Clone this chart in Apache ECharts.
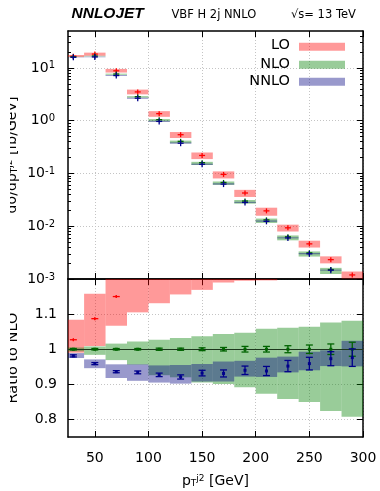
<!DOCTYPE html>
<html><head><meta charset="utf-8">
<script src="https://cdn.jsdelivr.net/npm/echarts@6/dist/echarts.min.js"></script>
<style>html,body{margin:0;padding:0;background:#fff}#c{width:380px;height:491px}</style>
</head><body><div id="c"></div>
<script>
// ---- data ----
const binEdges = [20,40,60,80,100,120,140,160,180,200,220,240,260,280,300];
const nloXsec = [16.2,16.8,7.65,2.85,1.045,0.406,0.16,0.0675,0.030,0.0132,0.0063,0.00313,0.00151,0.00077];
const loRatio     = [1.027,1.087,1.150,1.23,1.30,1.335,1.37,1.42,1.42,1.48,1.48,1.48,1.54,1.55];
const loRatioLow  = [0.990,1.009,1.067,1.105,1.131,1.156,1.169,1.190,1.195,1.196,1.26,1.26,1.31,1.32];
const loRatioHigh = [1.084,1.158,1.25,1.36,1.45,1.50,1.56,1.62,1.63,1.70,1.70,1.70,1.78,1.80];
const loErr       = [0.003,0.003,0.003,0.004,0.004,0.005,0.005,0.006,0.006,0.007,0.008,0.009,0.010,0.011];
const nloRatioLow  = [0.994,0.984,0.969,0.956,0.926,0.920,0.905,0.901,0.892,0.873,0.858,0.850,0.824,0.808];
const nloRatioHigh = [1.005,1.008,1.016,1.022,1.027,1.032,1.037,1.043,1.047,1.058,1.061,1.064,1.076,1.081];
const nloErr       = [0.002,0.002,0.002,0.002,0.003,0.003,0.004,0.005,0.008,0.008,0.010,0.012,0.015,0.020];
const nnloRatio     = [0.981,0.959,0.936,0.934,0.927,0.921,0.932,0.931,0.940,0.938,0.952,0.959,0.973,0.976];
const nnloRatioLow  = [0.975,0.946,0.918,0.910,0.905,0.902,0.908,0.908,0.922,0.921,0.934,0.940,0.952,0.951];
const nnloRatioHigh = [0.989,0.971,0.957,0.957,0.954,0.955,0.958,0.965,0.967,0.976,0.979,0.993,0.997,1.024];
const nnloErr       = [0.003,0.003,0.003,0.004,0.005,0.006,0.008,0.010,0.012,0.013,0.016,0.018,0.020,0.025];
const xTicks = [50,100,150,200,250,300];
const yTicksTop = [0.001,0.01,0.1,1,10];
const yTicksRatio = [0.8,0.9,1,1.1];
const legendNames = ['LO','NLO','NNLO'];

// ---- build ----
const FONT = 'DejaVu Sans';
const cLO='rgba(255,0,0,0.4)', cNLO='rgba(0,128,0,0.4)', cNNLO='rgba(0,0,128,0.4)';
const pLO='#ff0000', pNLO='#006400', pNNLO='#00008b';
const minorTop = [];
for (let e=-3;e<=1;e++) for (let m=2;m<=9;m++){ const v=m*Math.pow(10,e); if(v<50) minorTop.push(v); }

const nb = nloXsec.length;
const bandsTop = {lo:[],nlo:[],nnlo:[]}, bandsR = {lo:[],nlo:[],nnlo:[]}, ptsTop={lo:[],nlo:[],nnlo:[]}, ptsR={lo:[],nlo:[],nnlo:[]};
for (let i=0;i<nb;i++){
  const x0=binEdges[i], x1=binEdges[i+1], xc=(x0+x1)/2, n=nloXsec[i];
  bandsTop.lo.push([x0,x1,loRatioLow[i]*n,loRatioHigh[i]*n]);
  bandsTop.nlo.push([x0,x1,nloRatioLow[i]*n,nloRatioHigh[i]*n]);
  bandsTop.nnlo.push([x0,x1,nnloRatioLow[i]*n,nnloRatioHigh[i]*n]);
  bandsR.lo.push([x0,x1,loRatioLow[i],loRatioHigh[i]]);
  bandsR.nlo.push([x0,x1,nloRatioLow[i],nloRatioHigh[i]]);
  bandsR.nnlo.push([x0,x1,nnloRatioLow[i],nnloRatioHigh[i]]);
  ptsTop.lo.push([xc,loRatio[i]*n,0]);
  ptsTop.nlo.push([xc,n,0]);
  ptsTop.nnlo.push([xc,nnloRatio[i]*n,0]);
  ptsR.lo.push([xc,loRatio[i],loErr[i]]);
  ptsR.nlo.push([xc,1,nloErr[i]]);
  ptsR.nnlo.push([xc,nnloRatio[i],nnloErr[i]]);
}

function bandSeries(xi, yi, data, fill, z){
  return {type:'custom', xAxisIndex:xi, yAxisIndex:yi, z, data, silent:true, animation:false,
    renderItem(params, api){
      const a = api.coord([api.value(0), api.value(3)]);
      const b = api.coord([api.value(1), api.value(2)]);
      const cs = params.coordSys;
      const shape = echarts.graphic.clipRectByRect({x:a[0],y:a[1],width:b[0]-a[0],height:b[1]-a[1]},{x:cs.x,y:cs.y,width:cs.width,height:cs.height});
      if(!shape) return null;
      return {type:'rect', shape, style:{fill}};
    }};
}
function pointSeries(xi, yi, data, color, opt, z){
  return {type:'custom', xAxisIndex:xi, yAxisIndex:yi, z, data, silent:true, animation:false,
    renderItem(params, api){
      const cs = params.coordSys;
      const x=api.value(0), y=api.value(1), e=api.value(2);
      const c = api.coord([x,y]);
      if (c[1] < cs.y-1 || c[1] > cs.y+cs.height+1) return null;
      const st = {stroke:color, lineWidth:opt.lw||1.2};
      const ch = [];
      if (e>0){
        const t=api.coord([x,y+e])[1], b=api.coord([x,y-e])[1];
        ch.push({type:'line', shape:{x1:c[0],y1:Math.max(t,cs.y),x2:c[0],y2:Math.min(b,cs.y+cs.height)}, style:st});
        if(opt.cap){
          if(t>=cs.y) ch.push({type:'line', shape:{x1:c[0]-opt.cap,y1:t,x2:c[0]+opt.cap,y2:t}, style:st});
          if(b<=cs.y+cs.height) ch.push({type:'line', shape:{x1:c[0]-opt.cap,y1:b,x2:c[0]+opt.cap,y2:b}, style:st});
        }
      }
      if(opt.h) ch.push({type:'line', shape:{x1:c[0]-opt.h,y1:c[1],x2:c[0]+opt.h,y2:c[1]}, style:st});
      if(opt.v) ch.push({type:'line', shape:{x1:c[0],y1:c[1]-opt.v,x2:c[0],y2:c[1]+opt.v}, style:st});
      if(opt.sq) ch.push({type:'rect', shape:{x:c[0]-opt.sq/2,y:c[1]-opt.sq/2,width:opt.sq,height:opt.sq}, style:{fill:color}});
      return {type:'group', children:ch};
    }};
}

const border = {show:true, onZero:false, lineStyle:{color:'#000', width:1.5}};
const dotted = {show:true, lineStyle:{color:'#c4c4c4', type:[1,2], width:1}};
const lab = {fontFamily:FONT, fontSize:14, color:'#000'};

function xAx(grid, pos, labels){
  return {gridIndex:grid, type:'value', min:25, max:300, position:pos, axisLine:border,
    axisTick:{show:true, inside:true, length:6, customValues:xTicks, lineStyle:{color:'#000',width:1}},
    axisLabel: labels ? Object.assign({show:true, customValues:xTicks, margin:14}, lab) : {show:false},
    splitLine: (pos==='bottom') ? dotted : {show:false}};
}
const supFmt = v => '{b|10}{s|' + Math.round(Math.log10(v)) + '}';

const option = {
  animation:false,
  grid:[{left:68, top:31, width:295, height:248, containLabel:false, outerBoundsMode:'none'},
        {left:68, top:279, width:295, height:158, containLabel:false, outerBoundsMode:'none'}],
  xAxis:[xAx(0,'bottom',false), xAx(0,'top',false), xAx(1,'bottom',true), xAx(1,'top',false)],
  yAxis:[
    {gridIndex:0, type:'log', logBase:10, min:0.001, max:50, position:'left', axisLine:border,
     axisTick:{show:true, inside:true, length:6, customValues:yTicksTop, lineStyle:{color:'#000'}},
     axisLabel:{show:true, customValues:yTicksTop, margin:13, formatter:supFmt,
       rich:{b:{fontFamily:FONT, fontSize:14, color:'#000'}, s:{fontFamily:FONT, fontSize:10, color:'#000', verticalAlign:'top'}}},
     splitLine:dotted},
    {gridIndex:0, type:'log', logBase:10, min:0.001, max:50, position:'right', axisLine:border,
     axisTick:{show:true, inside:true, length:6, customValues:yTicksTop, lineStyle:{color:'#000'}},
     axisLabel:{show:false}, splitLine:{show:false}},
    {gridIndex:0, type:'log', logBase:10, min:0.001, max:50, position:'left', axisLine:{show:false},
     axisTick:{show:true, inside:true, length:3, customValues:minorTop, lineStyle:{color:'#000'}},
     axisLabel:{show:false}, splitLine:{show:false}},
    {gridIndex:0, type:'log', logBase:10, min:0.001, max:50, position:'right', axisLine:{show:false},
     axisTick:{show:true, inside:true, length:3, customValues:minorTop, lineStyle:{color:'#000'}},
     axisLabel:{show:false}, splitLine:{show:false}},
    {gridIndex:1, type:'value', min:0.75, max:1.2, position:'left', axisLine:border,
     axisTick:{show:true, inside:true, length:6, customValues:yTicksRatio, lineStyle:{color:'#000'}},
     axisLabel:Object.assign({show:true, customValues:yTicksRatio, margin:11}, lab),
     splitLine:dotted},
    {gridIndex:1, type:'value', min:0.75, max:1.2, position:'right', axisLine:border,
     axisTick:{show:true, inside:true, length:6, customValues:yTicksRatio, lineStyle:{color:'#000'}},
     axisLabel:{show:false}, splitLine:{show:false}}
  ],
  series:[
    bandSeries(0,0,bandsTop.lo,cLO,2),
    bandSeries(0,0,bandsTop.nlo,cNLO,3),
    bandSeries(0,0,bandsTop.nnlo,cNNLO,4),
    pointSeries(0,0,ptsTop.lo,pLO,{h:3,v:2.5,lw:1.3},6),
    pointSeries(0,0,ptsTop.nlo,pNLO,{h:3,v:2.5,lw:1.3},7),
    pointSeries(0,0,ptsTop.nnlo,pNNLO,{h:3,v:3,lw:1.3},8),
    bandSeries(2,4,bandsR.lo,cLO,2),
    Object.assign(bandSeries(2,4,bandsR.nlo,cNLO,3), {
      markLine:{silent:true, symbol:'none', animation:false, label:{show:false},
        lineStyle:{color:'#1c361c', type:'solid', width:1}, data:[{yAxis:1}]}}),
    bandSeries(2,4,bandsR.nnlo,cNNLO,4),
    pointSeries(2,4,ptsR.lo,pLO,{h:3.5,v:1.5,lw:1.3},6),
    pointSeries(2,4,ptsR.nlo,pNLO,{cap:3.5,sq:3,lw:1.3},7),
    pointSeries(2,4,ptsR.nnlo,pNNLO,{cap:3.5,sq:3,lw:1.3},8)
  ],
  graphic:[
    {type:'text', x:71.5, y:14, style:{text:'NNLOJET', fontFamily:'Liberation Sans', fontWeight:'bold', fontStyle:'italic', fontSize:15.5, fill:'#000', verticalAlign:'middle'}},
    {type:'text', x:171.5, y:15.5, style:{text:'VBF H 2j NNLO', fontFamily:FONT, fontSize:11.5, fill:'#000', verticalAlign:'middle'}},
    {type:'text', x:291, y:15.5, style:{text:'√s= 13 TeV', fontFamily:FONT, fontSize:11.5, fill:'#000', verticalAlign:'middle'}},
    {type:'text', x:12.5, y:155, rotation:Math.PI/2, style:{text:'dσ/dp{sub|T}{sup|j2} [fb/GeV]', fontFamily:FONT, fontSize:14, fill:'#000', align:'center', verticalAlign:'middle',
      rich:{sub:{fontFamily:FONT, fontSize:9, verticalAlign:'bottom'}, sup:{fontFamily:FONT, fontSize:9, verticalAlign:'top'}}}},
    {type:'text', x:13.5, y:358, rotation:Math.PI/2, style:{text:'Ratio to NLO', fontFamily:FONT, fontSize:14.5, fill:'#000', align:'center', verticalAlign:'middle'}},
    {type:'rect', shape:{x:0,y:40,width:10,height:400}, style:{fill:'#fff'}, z:100},
    {type:'text', x:215.5, y:481, style:{text:'p{sub|T}{sup|j2} [GeV]', fontFamily:FONT, fontSize:14, fill:'#000', align:'center', verticalAlign:'middle',
      rich:{sub:{fontFamily:FONT, fontSize:9, verticalAlign:'bottom'}, sup:{fontFamily:FONT, fontSize:9, verticalAlign:'top'}}}},
    {type:'text', x:290, y:45.5, style:{text:legendNames[0], fontFamily:FONT, fontSize:14.5, fill:'#000', align:'right', verticalAlign:'middle'}, z:50},
    {type:'rect', shape:{x:299,y:42.7,width:46,height:8}, style:{fill:cLO}, z:50},
    {type:'text', x:290, y:64.5, style:{text:legendNames[1], fontFamily:FONT, fontSize:14.5, fill:'#000', align:'right', verticalAlign:'middle'}, z:50},
    {type:'rect', shape:{x:299,y:60.7,width:46,height:8}, style:{fill:cNLO}, z:50},
    {type:'text', x:290, y:81.7, style:{text:legendNames[2], fontFamily:FONT, fontSize:14.5, fill:'#000', align:'right', verticalAlign:'middle'}, z:50},
    {type:'rect', shape:{x:299,y:77.7,width:46,height:8}, style:{fill:cNNLO}, z:50}
  ]
};
const chart = echarts.init(document.getElementById('c'), null, {renderer:'canvas', width:380, height:491});
chart.setOption(option);
</script></body></html>
